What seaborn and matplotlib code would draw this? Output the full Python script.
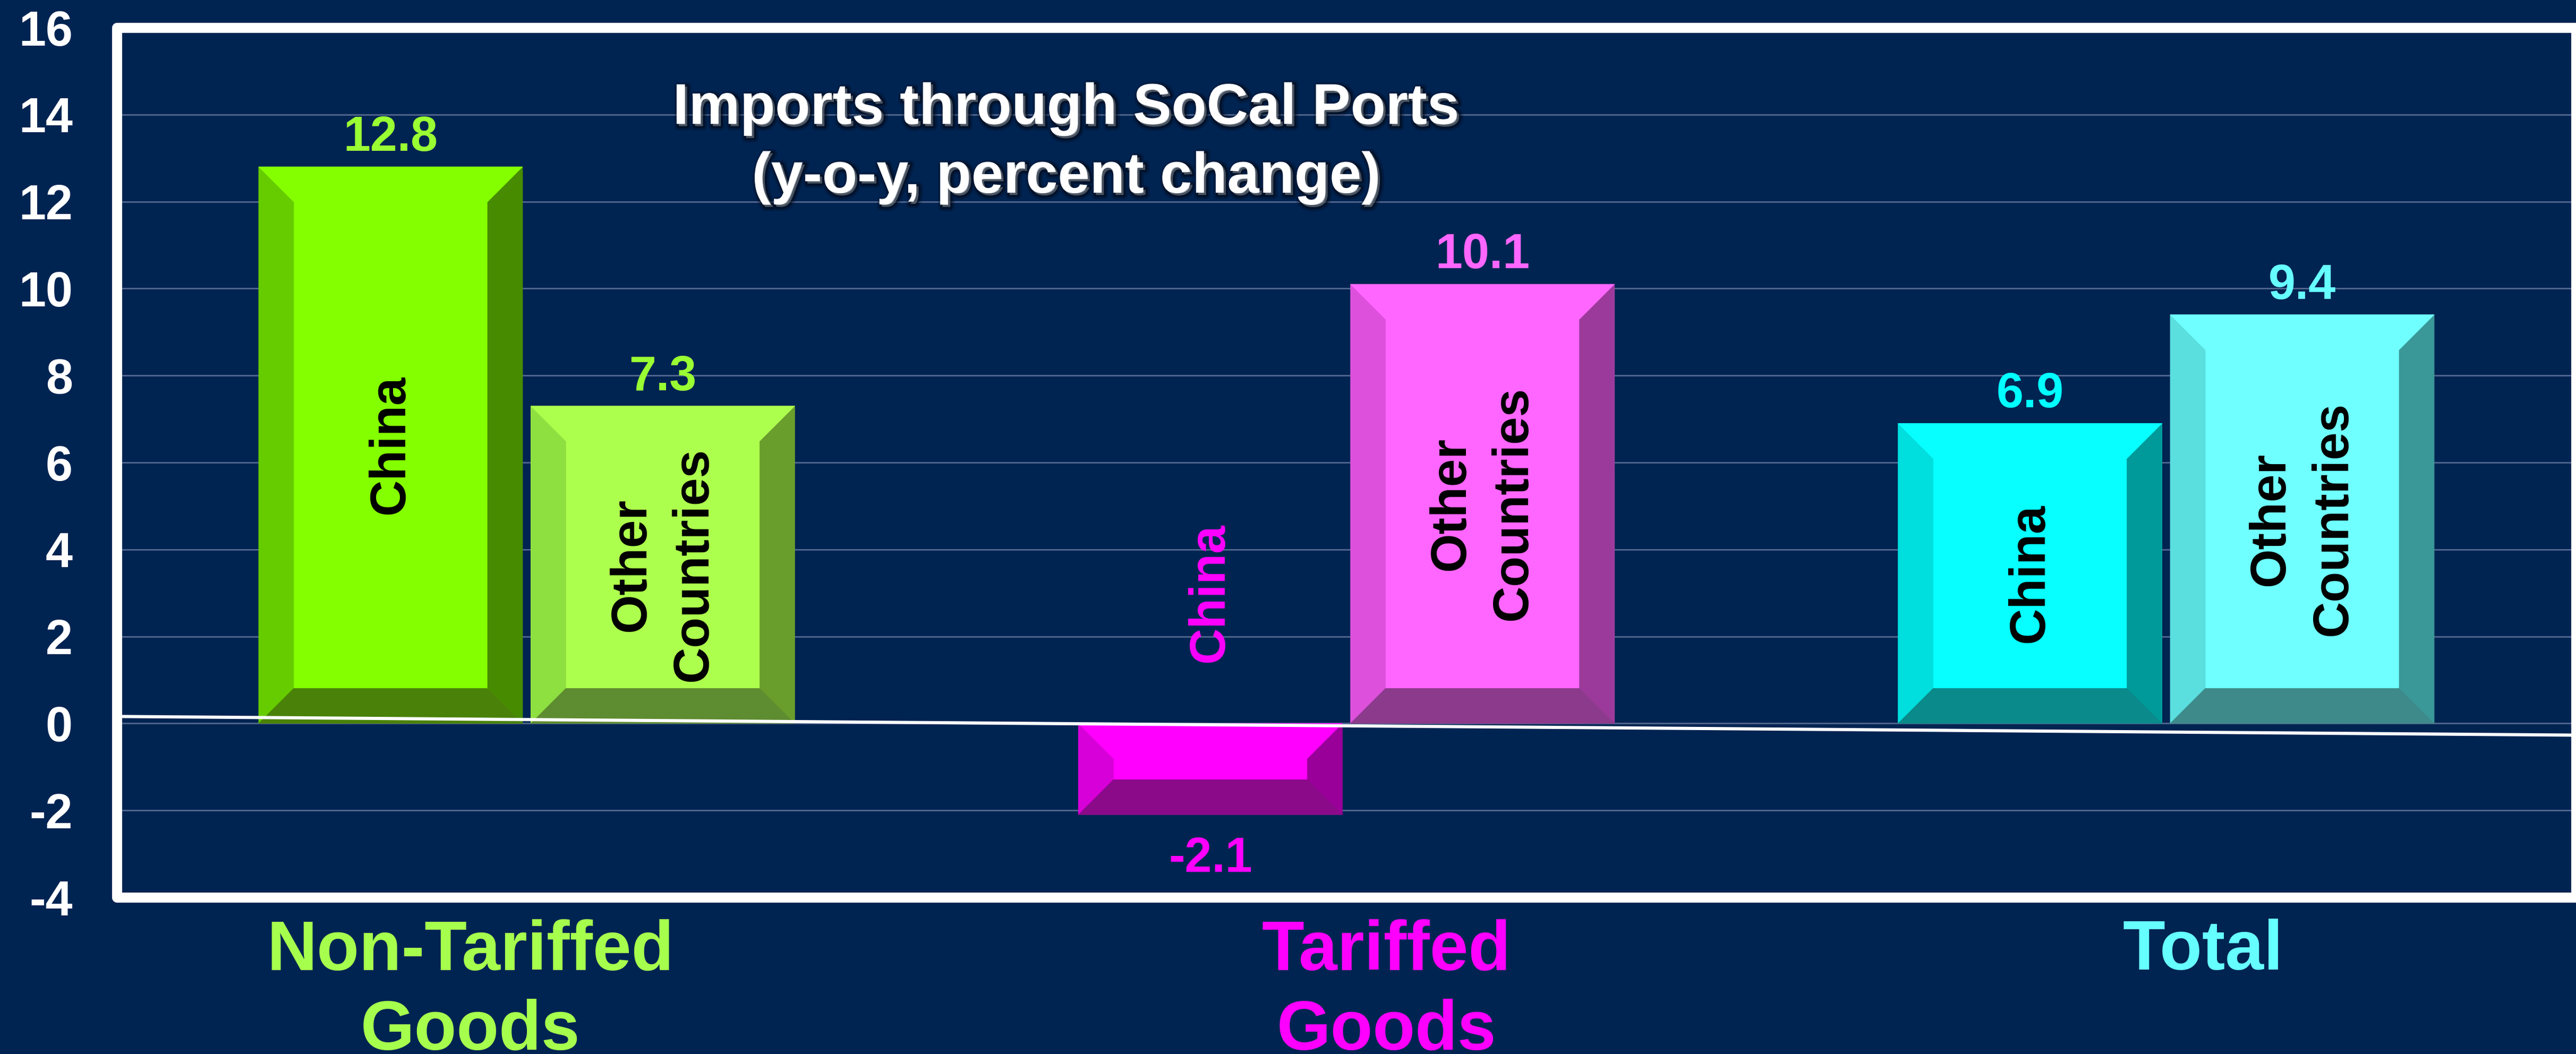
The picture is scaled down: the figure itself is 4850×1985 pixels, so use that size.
import numpy as np
import pandas as pd
import matplotlib
matplotlib.use("Agg")
import matplotlib.pyplot as plt
import seaborn as sns
from matplotlib.patches import Polygon, Rectangle
from matplotlib.transforms import ScaledTranslation
import matplotlib.patheffects as pe

# ---------------- data ----------------
groups = ["Non-Tariffed\nGoods", "Tariffed\nGoods", "Total"]
origins = ["China", "Other\nCountries"]
china_values = [12.8, -2.1, 6.9]
other_values = [7.3, 10.1, 9.4]
y_ticks = list(range(-4, 17, 2))
title = "Imports through SoCal Ports\n(y-o-y, percent change)"

# ---------------- styles ----------------
BG = "#002452"
GRID = "#53688F"
FACE = [["#84FF00", "#FF00FF", "#08FFFF"], ["#ADFF4D", "#FF66FF", "#70FFFF"]]
LEFT = [["#66CC00", "#D800D8", "#00DEDE"], ["#8EE040", "#DC50DC", "#5ADEDE"]]
RIGHT = [["#478B00", "#990099", "#009A9A"], ["#6A9E2C", "#9C3A9C", "#3A9898"]]
BOTTOM = [["#4A8209", "#8A0A8A", "#0A8A8A"], ["#5E8C30", "#8C3A8C", "#3E8A8A"]]
VALUE_COLORS = [["#99FF33", "#FF00FF", "#00FFFF"], ["#99FF33", "#FF66FF", "#66FFFF"]]
XLABEL_COLORS = ["#A6FF4D", "#FF00FF", "#66FFFF"]
XLABEL_SHIFT_PX = [-106, 75, 69]
BEVEL_PX = 66

W_PX, H_PX = 4850, 1985
AX_L, AX_R, AX_T, AX_B = 220, 4850, 52, 1690

sns.set_theme(style="white")
plt.rcParams["font.family"] = ["Liberation Sans", "DejaVu Sans"]
plt.rcParams["font.weight"] = "bold"
plt.rcParams["axes.unicode_minus"] = False

fig = plt.figure(figsize=(W_PX / 100, H_PX / 100), dpi=100, facecolor=BG)
ax = fig.add_axes([AX_L / W_PX, 1 - AX_B / H_PX, (AX_R - AX_L) / W_PX, (AX_B - AX_T) / H_PX])
ax.set_facecolor(BG)

df = pd.DataFrame({
    "group": groups * 2,
    "origin": [origins[0]] * len(groups) + [origins[1]] * len(groups),
    "value": china_values + other_values,
})

sns.barplot(data=df, x="group", y="value", hue="origin", order=groups,
            hue_order=origins, width=0.664, gap=0.03, saturation=1,
            errorbar=None, legend=False, ax=ax,
            palette=[FACE[0][0], FACE[1][0]])

ax.set_xlim(-0.5, 2.5)
ax.set_ylim(-4, 16)
ax.set_yticks(y_ticks)
ax.yaxis.grid(True, color=GRID, lw=2)
ax.xaxis.grid(False)
ax.set_axisbelow(True)
for sp in ax.spines.values():
    sp.set_visible(False)
ax.set_xlabel("")
ax.set_ylabel("")
ax.tick_params(axis="y", length=0, pad=60, labelsize=66, labelcolor="white")
ax.tick_params(axis="x", length=0, pad=29, labelsize=94)

# bevel sizes in data units
ax_w = AX_R - AX_L
ax_h = AX_B - AX_T
bx = BEVEL_PX * 3.0 / ax_w
by = BEVEL_PX * 20.0 / ax_h

values = [china_values, other_values]
bars = [p for p in ax.patches if isinstance(p, Rectangle)]
for bar in bars:
    x0 = bar.get_x()
    w = bar.get_width()
    x1 = x0 + w
    cx = x0 + w / 2
    j = int(round(cx))
    i = 0 if cx < j else 1
    y0 = bar.get_y()
    h = bar.get_height()
    yb, yt = min(y0, y0 + h), max(y0, y0 + h)
    bar.set_facecolor(FACE[i][j])
    bar.set_edgecolor("none")
    bar.set_zorder(2)
    polys = [
        ([(x0, yb), (x0, yt), (x0 + bx, yt - by), (x0 + bx, yb + by)], LEFT[i][j]),
        ([(x1, yb), (x1, yt), (x1 - bx, yt - by), (x1 - bx, yb + by)], RIGHT[i][j]),
        ([(x0, yb), (x1, yb), (x1 - bx, yb + by), (x0 + bx, yb + by)], BOTTOM[i][j]),
        ([(x0, yt), (x1, yt), (x1 - bx, yt - by), (x0 + bx, yt - by)], FACE[i][j]),
    ]
    for pts, col in polys:
        ax.add_patch(Polygon(pts, closed=True, facecolor=col, edgecolor=col,
                             lw=0.5, zorder=2.5))
    v = values[i][j]
    if v >= 0:
        ax.annotate(f"{v:.1f}", xy=(cx, v), xytext=(0, 21.6),
                    textcoords="offset points", ha="center", va="baseline",
                    fontsize=66, fontweight="bold", color=VALUE_COLORS[i][j], zorder=5)
        ax.text(cx, v / 2, origins[i], rotation=90, ha="center", va="center",
                fontsize=68, fontweight="bold", color="black",
                linespacing=1.41, zorder=5)
    else:
        ax.annotate(f"{v:.1f}", xy=(cx, v), xytext=(0, -77.8),
                    textcoords="offset points", ha="center", va="baseline",
                    fontsize=66, fontweight="bold", color=VALUE_COLORS[i][j], zorder=5)
        ax.text(cx, 3.0, origins[i], rotation=90, ha="center", va="center",
                fontsize=68, fontweight="bold", color=VALUE_COLORS[i][j],
                linespacing=1.41, zorder=5)

# slanted zero line as in the original
ax.plot([-0.5, 2.5], [0.16, -0.27], color="white", lw=4.3, zorder=4,
        solid_capstyle="butt", clip_on=False)

# white frame with rounded corners
ax.add_patch(Rectangle((0, 0), 1, 1, transform=ax.transAxes, fill=False,
                       edgecolor="white", lw=13.7, joinstyle="round",
                       clip_on=False, zorder=6))

# category labels
ax.set_xticks(range(len(groups)))
ax.set_xticklabels(groups, linespacing=1.29, fontweight="bold")
for k, lab in enumerate(ax.get_xticklabels()):
    lab.set_color(XLABEL_COLORS[k])
    lab.set_transform(lab.get_transform() +
                      ScaledTranslation(XLABEL_SHIFT_PX[k] / 100, 0, fig.dpi_scale_trans))
for lab in ax.get_yticklabels():
    lab.set_fontweight("bold")

# title with soft shadow
fig.text(2008 / W_PX, 1 - 363 / H_PX, title, ha="center", va="baseline",
         fontsize=78, fontweight="bold", color="white", linespacing=1.38,
         path_effects=[
             pe.Stroke(linewidth=12, foreground="#000814", alpha=0.25, offset=(3, -3)),
             pe.Stroke(linewidth=6, foreground="#000814", alpha=0.5, offset=(3, -3)),
             pe.Normal(),
         ], zorder=7)

fig.savefig("out.png", dpi=100, facecolor=BG)
